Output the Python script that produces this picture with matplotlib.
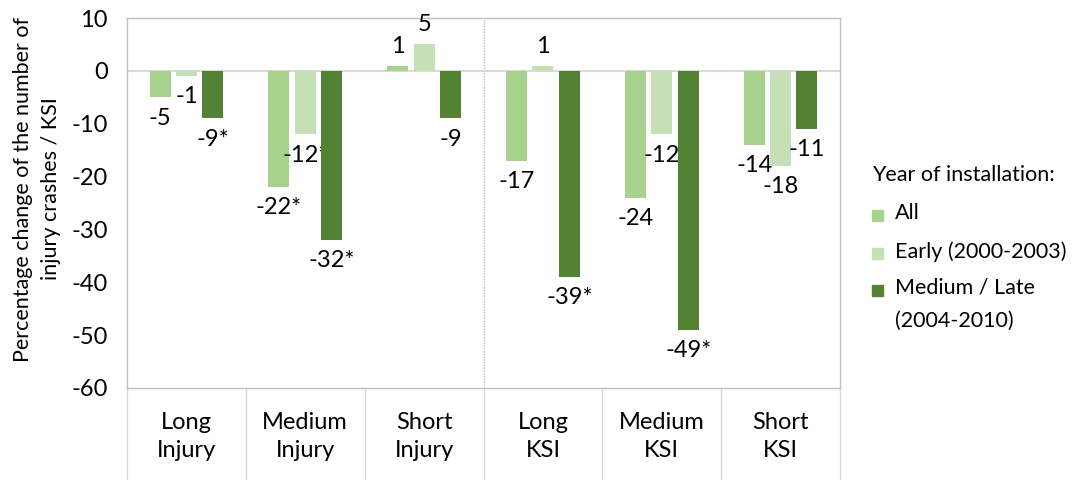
import numpy as np
import matplotlib
matplotlib.use("Agg")
import matplotlib.pyplot as plt
from matplotlib.patches import Rectangle
from matplotlib.transforms import blended_transform_factory

plt.rcParams['font.family'] = ['Lato', 'DejaVu Sans']
plt.rcParams['axes.unicode_minus'] = False

categories = ["Long\nInjury", "Medium\nInjury", "Short\nInjury",
              "Long\nKSI", "Medium\nKSI", "Short\nKSI"]
series_names = ["All", "Early (2000-2003)", "Medium / Late\n(2004-2010)"]
all_vals = [-5, -22, 1, -17, -24, -14]
early_vals = [-1, -12, 5, 1, -12, -18]
late_vals = [-9, -32, -9, -39, -49, -11]
all_labels = ["-5", "-22*", "1", "-17", "-24", "-14"]
early_labels = ["-1", "-12*", "5", "1", "-12", "-18"]
late_labels = ["-9*", "-32*", "-9", "-39*", "-49*", "-11"]
yticks = [10, 0, -10, -20, -30, -40, -50, -60]

colors = ["#a9d18e", "#c5e0b4", "#548235"]
fs = 17
fs_side = 15.5
W, H = 1086, 480

fig = plt.figure(figsize=(10.86, 4.8), dpi=100)
ax = fig.add_axes([127/W, 1-388/H, (840-127)/W, (388-18)/H])

x = np.arange(len(categories)) + 0.5
offsets = [-0.222, 0, 0.222]
width = 0.177
data = [all_vals, early_vals, late_vals]
labels = [all_labels, early_labels, late_labels]

for vals, labs, off, col, name in zip(data, labels, offsets, colors, series_names):
    bars = ax.bar(x + off, vals, width, color=col, label=name, zorder=3)
    for b, v, lab in zip(bars, vals, labs):
        dy = 14 if v > 0 else -15
        ax.annotate(lab, (b.get_x() + b.get_width()/2, v), xytext=(0, dy),
                    textcoords="offset points", ha="center", va="center",
                    fontsize=fs, color="#000000")

ax.set_xlim(0, 6)
ax.set_ylim(-60, 10)
ax.set_yticks(yticks)
ax.set_xticks([])
ax.tick_params(axis="y", length=0, pad=14, labelsize=fs)
for s in ax.spines.values():
    s.set_linestyle((0, (1, 1)))
    s.set_color("#bfbfbf")
    s.set_linewidth(1)
ax.axhline(0, color="#d9d9d9", lw=1.5, zorder=2)
ax.axvline(3, color="#bfbfbf", lw=1, ls=(0, (1, 1)), zorder=1)

# category labels and separators below the plot area
trans = blended_transform_factory(ax.transData, ax.transAxes)
for i in range(len(categories) + 1):
    ax.plot([i, i], [0, -0.26], transform=trans, color="#d9d9d9", lw=1,
            clip_on=False)
for xi, cat in zip(x, categories):
    ax.text(xi, -0.066, cat, transform=trans, ha="center", va="top",
            fontsize=fs, linespacing=1.38)

fig.text(37/W, 1-189/H,
         "Percentage change of the number of\ninjury crashes / KSI",
         rotation=90, ha="center", va="center", fontsize=fs_side,
         multialignment="center", linespacing=1.55)

# legend drawn by hand so the swatch sits on the first line like Excel
fig.text(872/W, 1-175/H, "Year of installation:", ha="left", va="center",
         fontsize=fs_side)
item_y = [215, 253, 290]
for yy, col, name in zip(item_y, colors, series_names):
    fig.add_artist(Rectangle((872/W, 1-(yy+6)/H), 11/W, 11/H,
                             transform=fig.transFigure, color=col))
    fig.text(895/W, 1-(yy-12)/H, name, ha="left", va="top",
             fontsize=fs_side, linespacing=1.8)

fig.savefig("out.png", dpi=100)
